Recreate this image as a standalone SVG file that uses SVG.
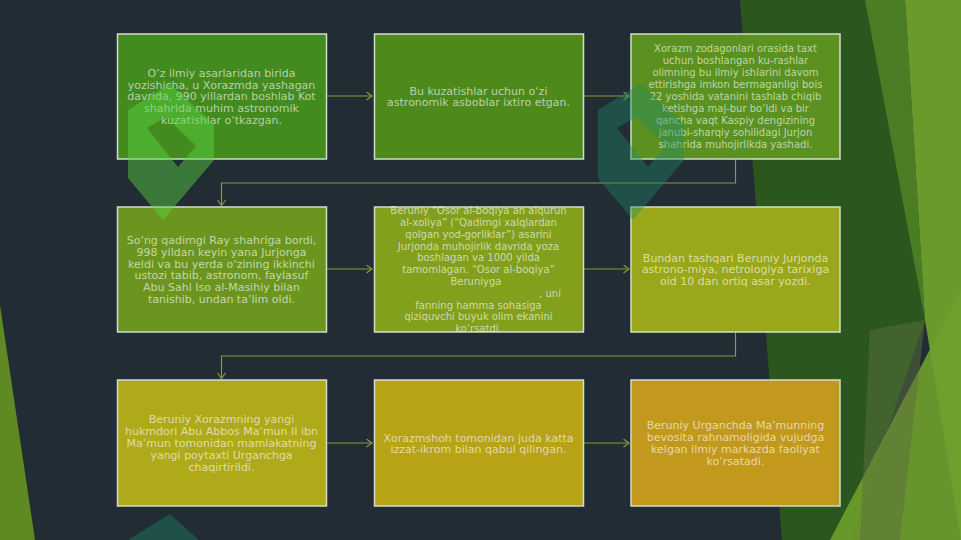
<svg xmlns="http://www.w3.org/2000/svg" width="961" height="540" viewBox="0 0 961 540">
<style>
.t{font-family:"DejaVu Sans",sans-serif;font-size:11px;fill:#ffffff;fill-opacity:.62;text-anchor:middle}
.s{font-size:10px}
.box{stroke:#d4dccb;stroke-width:1.5}
.c{fill:none;stroke:#8a9a3a;stroke-width:1.2}
</style>
<defs>
<marker id="ah" markerWidth="8" markerHeight="9" refX="6.5" refY="4.5" orient="auto" markerUnits="userSpaceOnUse">
<path d="M1,0.5 L6.5,4.5 L1,8.5" fill="none" stroke="#8a9a3a" stroke-width="1.2"/>
</marker>
<path id="logo" fill-rule="evenodd" d="M128,110 L170,84 L214,124 L214,160 L163,220 L128,178 Z M147,128 L166,117 L196,146 L178,167 Z"/>
</defs>
<rect width="961" height="540" fill="#222c35"/>
<g id="background">
<polygon points="0,305 0,540 35,540" fill="#5f8a23"/>
<polygon points="740,0 870,0 925,320 850,540 782,540" fill="#2b561d"/>
<polygon points="865,0 905,0 925,320" fill="#4a7d24"/>
<polygon points="905,0 961,0 961,540 925,320" fill="#6a9a2b"/>
<polygon points="830,540 961,540 961,290" fill="#70a02c" fill-opacity="0.9"/>
<polygon points="870,330 925,320 900,540 860,540" fill="#5a6f3e" fill-opacity="0.5"/>
</g>
<g id="connectors">
<line class="c" x1="326" y1="96" x2="372" y2="96" marker-end="url(#ah)"/>
<line class="c" x1="583" y1="96" x2="629" y2="96" marker-end="url(#ah)"/>
<polyline class="c" points="735.5,159 735.5,183 221.5,183 221.5,205.5" marker-end="url(#ah)"/>
<line class="c" x1="326" y1="269" x2="372" y2="269" marker-end="url(#ah)"/>
<line class="c" x1="583" y1="269" x2="629" y2="269" marker-end="url(#ah)"/>
<polyline class="c" points="735.5,332 735.5,356 221.5,356 221.5,378.5" marker-end="url(#ah)"/>
<line class="c" x1="326" y1="443" x2="372" y2="443" marker-end="url(#ah)"/>
<line class="c" x1="583" y1="443" x2="629" y2="443" marker-end="url(#ah)"/>
</g>
<g id="n1">
<rect class="box" x="117.5" y="34" width="209" height="125" fill="#438a1f"/>
<text class="t"><tspan x="221.5" y="76.8">O’z ilmiy asarlaridan birida</tspan><tspan x="221.5" y="88.6">yozishicha, u Xorazmda yashagan</tspan><tspan x="221.5" y="100.4">davrida, 990 yillardan boshlab Kot</tspan><tspan x="221.5" y="112.2">shahrida muhim astronomik</tspan><tspan x="221.5" y="124">kuzatishlar o‘tkazgan.</tspan></text>
</g>
<g id="n2">
<rect class="box" x="374.5" y="34" width="209" height="125" fill="#4e8a1b"/>
<text class="t"><tspan x="478.5" y="94.5">Bu kuzatishlar uchun o‘zi</tspan><tspan x="478.5" y="106.3">astronomik asboblar ixtiro etgan.</tspan></text>
</g>
<g id="n3">
<rect class="box" x="631" y="34" width="209" height="125" fill="#5b9120"/>
<text class="t s"><tspan x="735.5" y="52.1">Xorazm zodagonlari orasida taxt</tspan><tspan x="735.5" y="64.1">uchun boshlangan ku-rashlar</tspan><tspan x="735.5" y="76.1">olimning bu ilmiy ishlarini davom</tspan><tspan x="735.5" y="88.1">ettirishga imkon bermaganligi bois</tspan><tspan x="735.5" y="100.1">22 yoshida vatanini tashlab chiqib</tspan><tspan x="735.5" y="112.1">ketishga maj-bur bo‘ldi va bir</tspan><tspan x="735.5" y="124.1">qancha vaqt Kaspiy dengizining</tspan><tspan x="735.5" y="136.1">janubi-sharqiy sohilidagi Jurjon</tspan><tspan x="735.5" y="148.1">shahrida muhojirlikda yashadi.</tspan></text>
</g>
<g id="n4">
<rect class="box" x="117.5" y="207" width="209" height="125" fill="#6c951f"/>
<text class="t"><tspan x="221.5" y="243.9">So‘ng qadimgi Ray shahriga bordi,</tspan><tspan x="221.5" y="255.7">998 yildan keyin yana Jurjonga</tspan><tspan x="221.5" y="267.5">keldi va bu yerda o‘zining ikkinchi</tspan><tspan x="221.5" y="279.3">ustozi tabib, astronom, faylasuf</tspan><tspan x="221.5" y="291.1">Abu Sahl Iso al-Masihiy bilan</tspan><tspan x="221.5" y="302.9">tanishib, undan ta’lim oldi.</tspan></text>
</g>
<g id="n5">
<rect class="box" x="374.5" y="207" width="209" height="125" fill="#83a01d"/>
<text class="t s"><tspan x="478.5" y="214.1">Beruniy “Osor al-boqiya an alqurun</tspan><tspan x="478.5" y="225.9">al-xoliya” (“Qadimgi xalqlardan</tspan><tspan x="478.5" y="237.7">qolgan yod-gorliklar”) asarini</tspan><tspan x="478.5" y="249.5">Jurjonda muhojirlik davrida yoza</tspan><tspan x="478.5" y="261.3">boshlagan va 1000 yilda</tspan><tspan x="478.5" y="273.1">tamomlagan. “Osor al-boqiya”</tspan><tspan x="476" y="284.9">Beruniyga</tspan><tspan x="550" y="296.7">, uni</tspan><tspan x="478.5" y="308.5">fanning hamma sohasiga</tspan><tspan x="478.5" y="320.3">qiziquvchi buyuk olim ekanini</tspan><tspan x="478.5" y="332.1">ko‘rsatdi.</tspan></text>
</g>
<g id="n6">
<rect class="box" x="631" y="207" width="209" height="125" fill="#9ba71a"/>
<text class="t"><tspan x="735.5" y="261.6">Bundan tashqari Beruniy Jurjonda</tspan><tspan x="735.5" y="273.4">astrono-miya, netrologiya tarixiga</tspan><tspan x="735.5" y="285.2">oid 10 dan ortiq asar yozdi.</tspan></text>
</g>
<g id="n7">
<rect class="box" x="117.5" y="380" width="209" height="126" fill="#afaa19"/>
<text class="t"><tspan x="221.5" y="423.3">Beruniy Xorazmning yangi</tspan><tspan x="221.5" y="435.1">hukmdori Abu Abbos Ma’mun II ibn</tspan><tspan x="221.5" y="446.9">Ma’mun tomonidan mamlakatning</tspan><tspan x="221.5" y="458.7">yangi poytaxti Urganchga</tspan><tspan x="221.5" y="470.5">chaqirtirildi.</tspan></text>
</g>
<g id="n8">
<rect class="box" x="374.5" y="380" width="209" height="126" fill="#b8a216"/>
<text class="t"><tspan x="478.5" y="441.5">Xorazmshoh tomonidan juda katta</tspan><tspan x="478.5" y="453.3">izzat-ikrom bilan qabul qilingan.</tspan></text>
</g>
<g id="n9">
<rect class="box" x="631" y="380" width="209" height="126" fill="#c3991d"/>
<text class="t"><tspan x="735.5" y="429.2">Beruniy Urganchda Ma’munning</tspan><tspan x="735.5" y="441">bevosita rahnamoligida vujudga</tspan><tspan x="735.5" y="452.8">kelgan ilmiy markazda faoliyat</tspan><tspan x="735.5" y="464.6">ko‘rsatadi.</tspan></text>
</g>
<g id="watermark">
<use href="#logo" fill="#58d640" fill-opacity="0.45"/>
<use href="#logo" transform="translate(470,0)" fill="#1f8a66" fill-opacity="0.4"/>
<use href="#logo" transform="translate(0,430)" fill="#1f8a66" fill-opacity="0.4"/>
</g>
</svg>
